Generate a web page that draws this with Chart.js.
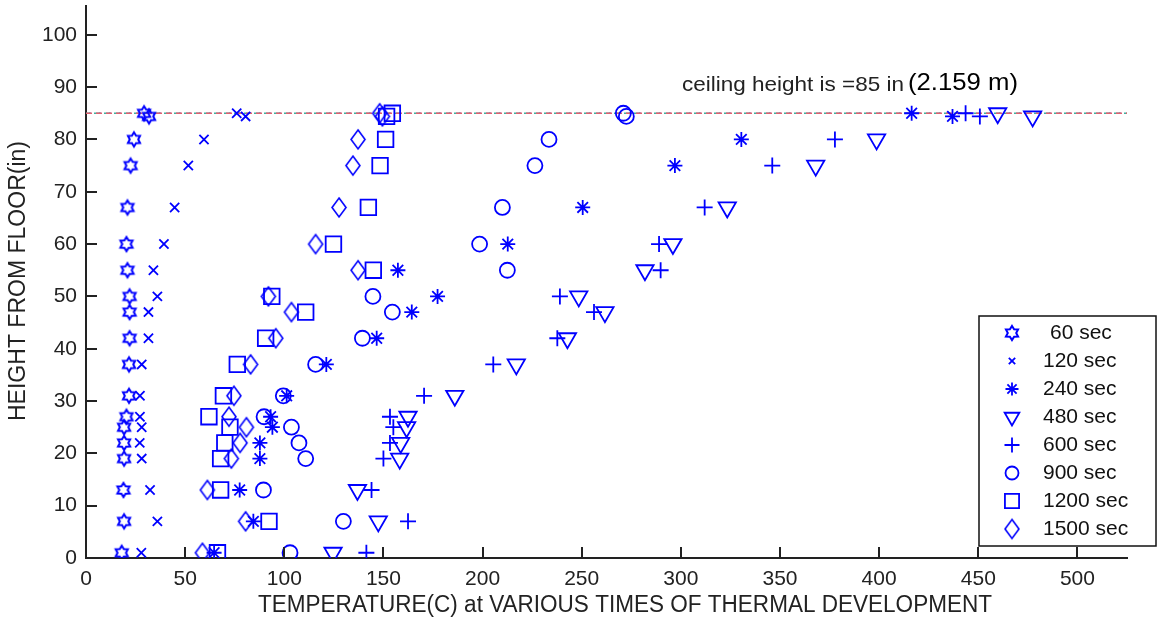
<!DOCTYPE html>
<html>
<head>
<meta charset="utf-8">
<script src="https://cdn.jsdelivr.net/npm/chart.js@4.4.1/dist/chart.umd.min.js"></script>
<style>
  html, body { margin: 0; padding: 0; background: #fff; }
  #wrap { width: 1165px; height: 624px; position: relative; }
</style>
</head>
<body>
<div id="wrap"><canvas id="tempChart"></canvas></div>
<script>
// thermocouple heights above the floor (in), shared by every run
const heights = [85, 84.4, 80, 75, 67, 60, 55, 50, 47, 42, 37, 31, 27, 25, 22, 19, 13, 7, 1];

// temperatures (C) at each height, one array per elapsed time
const t60   = [29.3, 31.8, 24.2, 22.5, 20.9, 20.4, 20.9, 22, 22, 22, 21.7, 21.7, 20.4, 19.2, 19.2, 19.2, 18.9, 19.2, 18];
const t120  = [76, 80.5, 59.5, 51.6, 44.7, 39.3, 34, 36, 31.5, 31.5, 28.1, 27.2, 27.2, 28.1, 27.1, 28.1, 32.3, 36, 27.9];
const t240  = [416.4, 437, 330.5, 297, 250.5, 212.7, 157.3, 177.3, 164.3, 146.6, 121.2, 101.2, 93.1, 94, 87.7, 87.7, 77.5, 84.4, 64.6];
const t480  = [459.8, 477.4, 398.7, 368, 323.4, 296, 281.9, 248.5, 261.7, 242.8, 217, 186, 162.4, 161.7, 158.7, 158.2, 136.9, 147.4, 124.6];
const t600  = [443.6, 450.8, 377.7, 346.1, 312, 289, 289.8, 239, 256.2, 237.7, 205.4, 170.5, 153.3, 155, 153.3, 150, 144, 162.4, 141.4];
const t900  = [271, 272.5, 233.5, 226.4, 210, 198.5, 212.5, 144.7, 154.5, 139.4, 115.8, 99.5, 89.8, 103.6, 107.4, 110.8, 89.5, 129.8, 102.9];
const t1200 = [154.5, 151.6, 151.1, 148.3, 142.4, 124.8, 144.9, 93.7, 110.8, 90.6, 76.3, 69.3, 62, 72.6, 70, 67.9, 67.9, 92.3, 66.3];
const t1500 = [148.1, 149.5, 137.2, 134.6, 127.6, 115.8, 137.2, 92, 103.6, 95.7, 83, 74.6, 72.1, 80.9, 77.7, 73.3, 61.2, 80.5, 58.7];

const seriesLabels = ['60 sec', '120 sec', '240 sec', '480 sec', '600 sec', '900 sec', '1200 sec', '1500 sec'];
const seriesValues = [t60, t120, t240, t480, t600, t900, t1200, t1500];

const ceilingHeight = 85;
const ceilingSpan = [0, 525];

const xTicks = [0, 50, 100, 150, 200, 250, 300, 350, 400, 450, 500];
const yTicks = [0, 10, 20, 30, 40, 50, 60, 70, 80, 90, 100];

const BLUE = '#0000ff';
const FONT = "'Liberation Sans', Arial, sans-serif";

// matlab-like markers that Chart.js doesn't have
function makeHexagram(r, lw) {
  const s = Math.ceil(2 * r + 2 * lw + 2);
  const c = document.createElement('canvas');
  c.width = s; c.height = s;
  const g = c.getContext('2d');
  g.strokeStyle = BLUE; g.lineWidth = lw; g.lineJoin = 'miter';
  g.beginPath();
  for (let i = 0; i < 12; i++) {
    const a = -Math.PI / 2 + i * Math.PI / 6;
    const rr = i % 2 === 0 ? r : r * 0.6;
    const px = s / 2 + rr * Math.cos(a), py = s / 2 + rr * Math.sin(a);
    if (i === 0) g.moveTo(px, py); else g.lineTo(px, py);
  }
  g.closePath(); g.stroke();
  return c;
}

function makeDiamond(w, h, lw) {
  const cw = Math.ceil(w + 2 * lw + 2), ch = Math.ceil(h + 2 * lw + 2);
  const c = document.createElement('canvas');
  c.width = cw; c.height = ch;
  const g = c.getContext('2d');
  g.strokeStyle = BLUE; g.lineWidth = lw;
  g.beginPath();
  g.moveTo(cw / 2, ch / 2 - h / 2);
  g.lineTo(cw / 2 + w / 2, ch / 2);
  g.lineTo(cw / 2, ch / 2 + h / 2);
  g.lineTo(cw / 2 - w / 2, ch / 2);
  g.closePath(); g.stroke();
  return c;
}

// style, plot radius, legend radius, rotation
const markers = [
  { style: makeHexagram(7, 2), radius: 7, key: 7, rotation: 0 },
  { style: 'crossRot', radius: 6.5, key: 4.5, rotation: 0 },
  { style: 'star', radius: 7.5, key: 6.5, rotation: 0 },
  { style: 'triangle', radius: 10, key: 8.5, rotation: 180 },
  { style: 'cross', radius: 8, key: 7.5, rotation: 0 },
  { style: 'circle', radius: 7.5, key: 6.5, rotation: 0 },
  { style: 'rect', radius: 11, key: 10, rotation: 0 },
  { style: makeDiamond(14, 19, 1.6), radius: 9, key: 9, rotation: 0 }
];

const datasets = seriesValues.map((vals, i) => ({
  label: seriesLabels[i],
  data: vals.map((v, k) => ({ x: v, y: heights[k] })),
  showLine: false,
  pointStyle: markers[i].style,
  pointRadius: markers[i].radius,
  pointRotation: markers[i].rotation,
  pointBorderColor: BLUE,
  pointBackgroundColor: 'rgba(0,0,0,0)',
  pointBorderWidth: 1.8,
  keyRadius: markers[i].key
}));

// ceiling line, drawn as a few overlapping dashed strokes
const ceilingStrokes = [
  { color: '#e06070', dash: [6, 4], offset: 0 },
  { color: '#40b0a0', dash: [6, 4], offset: 2 },
  { color: '#6060d0', dash: [2, 8], offset: 7 }
];
ceilingStrokes.forEach(s => {
  datasets.push({
    label: '',
    data: ceilingSpan.map(x => ({ x: x, y: ceilingHeight })),
    showLine: true,
    pointRadius: 0,
    borderColor: s.color,
    borderWidth: 1.5,
    borderDash: s.dash,
    borderDashOffset: s.offset,
    isCeiling: true
  });
});

// draws text squeezed or stretched to a given width
function fitText(ctx, text, x, y, width) {
  ctx.save();
  ctx.translate(x, y);
  ctx.scale(width / ctx.measureText(text).width, 1);
  ctx.fillText(text, 0, 0);
  ctx.restore();
}

const extras = {
  id: 'extras',
  afterDatasetsDraw(chart) {
    const { ctx, chartArea: a, scales: { x, y } } = chart;
    ctx.save();

    // inward tick marks
    ctx.strokeStyle = '#222';
    ctx.lineWidth = 2;
    ctx.beginPath();
    xTicks.forEach(v => {
      const p = Math.round(x.getPixelForValue(v));
      ctx.moveTo(p, a.bottom); ctx.lineTo(p, a.bottom - 11);
    });
    yTicks.forEach(v => {
      const p = Math.round(y.getPixelForValue(v));
      ctx.moveTo(a.left, p); ctx.lineTo(a.left + 11, p);
    });
    ctx.stroke();

    // ceiling note
    ctx.textBaseline = 'middle';
    ctx.textAlign = 'left';
    ctx.fillStyle = '#222';
    ctx.font = '21px ' + FONT;
    fitText(ctx, 'ceiling height is =85 in', 682, 85, 222);
    ctx.fillStyle = '#000';
    ctx.font = '24px ' + FONT;
    fitText(ctx, '(2.159 m)', 908, 83, 110);

    // axis titles
    ctx.fillStyle = '#222';
    ctx.font = '23px ' + FONT;
    ctx.textAlign = 'center';
    fitText(ctx, 'TEMPERATURE(C) at VARIOUS TIMES OF THERMAL DEVELOPMENT', 625, 606, 734);

    ctx.save();
    ctx.translate(19, 281);
    ctx.rotate(-Math.PI / 2);
    fitText(ctx, 'HEIGHT FROM FLOOR(in)', 0, 0, 280);
    ctx.restore();

    // legend box
    const lx = 979, ly = 316, lw = 177, lh = 230;
    ctx.fillStyle = '#fff';
    ctx.fillRect(lx, ly, lw, lh);
    ctx.strokeStyle = '#111';
    ctx.lineWidth = 1.5;
    ctx.strokeRect(lx, ly, lw, lh);
    ctx.textAlign = 'left';
    ctx.font = '21px ' + FONT;
    chart.data.datasets.filter(d => !d.isCeiling).forEach((d, i) => {
      const cy = 333 + i * 28;
      ctx.fillStyle = 'rgba(0,0,0,0)';
      ctx.strokeStyle = BLUE;
      ctx.lineWidth = d.pointBorderWidth;
      Chart.helpers.drawPoint(ctx, {
        pointStyle: d.pointStyle,
        radius: d.keyRadius,
        rotation: d.pointRotation,
        borderWidth: d.pointBorderWidth
      }, 1012, cy);
      ctx.fillStyle = '#111';
      ctx.fillText(d.label, i === 0 ? 1050 : 1043, cy);
    });
    ctx.restore();
  }
};

new Chart(document.getElementById('tempChart'), {
  type: 'scatter',
  data: { datasets: datasets },
  plugins: [extras],
  options: {
    responsive: true,
    maintainAspectRatio: false,
    animation: false,
    events: [],
    layout: { autoPadding: false, padding: { top: 6, right: 38, left: 0, bottom: 0 } },
    plugins: {
      legend: { display: false },
      tooltip: { enabled: false }
    },
    scales: {
      x: {
        type: 'linear',
        min: 0,
        max: 525,
        afterFit: s => { s.height = 66; s.paddingLeft = 0; s.paddingRight = 0; },
        afterBuildTicks: s => { s.ticks = xTicks.map(v => ({ value: v })); },
        grid: { display: false, drawTicks: false },
        border: { display: true, color: '#222', width: 2 },
        ticks: { color: '#222', padding: 9, font: { family: FONT, size: 21 }, maxRotation: 0 }
      },
      y: {
        type: 'linear',
        min: 0,
        max: 105.5,
        afterFit: s => { s.width = 86; s.paddingTop = 0; s.paddingBottom = 0; },
        afterBuildTicks: s => { s.ticks = yTicks.map(v => ({ value: v })); },
        grid: { display: false, drawTicks: false },
        border: { display: true, color: '#222', width: 2 },
        ticks: { color: '#222', padding: 9, font: { family: FONT, size: 21 } }
      }
    }
  }
});
</script>
</body>
</html>
